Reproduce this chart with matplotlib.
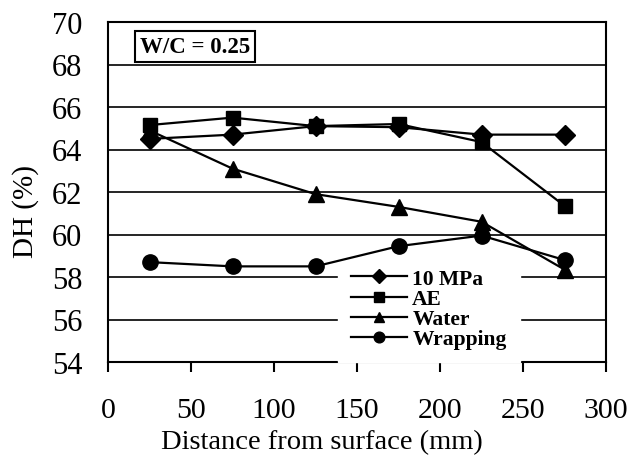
import matplotlib
matplotlib.use("Agg")
import matplotlib.pyplot as plt

plt.rcParams['font.family'] = ['Liberation Serif', 'DejaVu Serif']

distance = [25, 75, 125, 175, 225, 275]
mpa10 = [64.5, 64.7, 65.1, 65.05, 64.7, 64.7]
ae = [65.15, 65.5, 65.1, 65.2, 64.35, 61.35]
water = [64.9, 63.1, 61.9, 61.3, 60.6, 58.35]
wrapping = [58.7, 58.5, 58.5, 59.45, 59.95, 58.8]
series_labels = ['10 MPa', 'AE', 'Water', 'Wrapping']
x_ticks = [0, 50, 100, 150, 200, 250, 300]
y_ticks = [54, 56, 58, 60, 62, 64, 66, 68, 70]

fig = plt.figure(figsize=(6.29, 4.56), dpi=100)
ax = fig.add_axes([108/629, 1-363/456, (606-108)/629, (363-23)/456])

markers = ['D', 's', '^', 'o']
sizes = [10, 10, 11, 11]
for vals, lab, m, ms in zip([mpa10, ae, water, wrapping], series_labels, markers, sizes):
    ax.plot(distance, vals, color='black', lw=1.6, marker=m, ms=ms,
            markerfacecolor='black', markeredgecolor='black', label=lab, zorder=6)

ax.set_xlim(0, 300)
ax.set_ylim(54, 70)
ax.set_xticks(x_ticks)
ax.set_yticks(y_ticks)
ax.grid(axis='y', color='black', lw=1.2)
ax.set_axisbelow(True)
for s in ax.spines.values():
    s.set_linewidth(1.5)
ax.tick_params(axis='x', direction='out', length=7, width=1.5, pad=18, labelsize=21.5)
ax.tick_params(axis='y', length=0, pad=18.5, labelsize=22)

fig.text(322/629, 1-449/456, 'Distance from surface (mm)', ha='center', va='baseline', fontsize=20.5)
fig.text(26/629, 1-212/456, 'DH (%)', ha='center', va='center', rotation=90, fontsize=21)

ax.text(195/629, 1-47.5/456, 'W/C = 0.25', transform=fig.transFigure, ha='center', va='center',
        fontsize=16.5, fontweight='bold',
        bbox=dict(boxstyle='square,pad=0.22', facecolor='white', edgecolor='black', lw=1.5))

leg = ax.legend(loc='upper left', bbox_to_anchor=(338/629, 1-257/456), bbox_transform=fig.transFigure,
                frameon=True, fancybox=False, edgecolor='white', facecolor='white', framealpha=1,
                prop={'size': 15.5, 'weight': 'bold'}, handlelength=2.6, handletextpad=0.25,
                labelspacing=0.0, borderpad=0.6, borderaxespad=0, markerscale=0.7)
leg.set_zorder(5)

fig.savefig('out.png', dpi=100)
